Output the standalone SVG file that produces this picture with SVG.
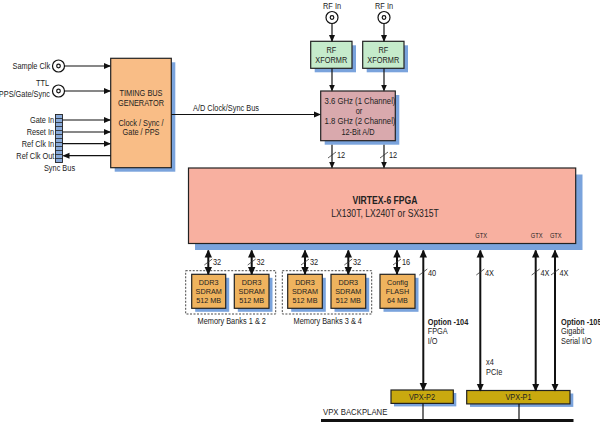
<svg xmlns="http://www.w3.org/2000/svg" width="600" height="422" viewBox="0 0 600 422">
<style>
text{font-family:"Liberation Sans",Arial,sans-serif;font-size:9px;fill:#222;transform-box:fill-box;transform-origin:0% 50%;transform:scaleX(0.82)}
.c{text-anchor:middle;transform-origin:50% 50%}
.e{text-anchor:end;transform-origin:100% 50%}
.b{font-weight:bold}
.m{font-size:7.7px;transform:scaleX(0.94)}
.box{stroke:#222;stroke-width:1.2}
.sh{fill:#7aa3dc}
.w{fill:none;stroke:#111;stroke-width:1.2}
.t{fill:none;stroke:#111;stroke-width:2}
.s{fill:none;stroke:#333;stroke-width:0.8}
.ring{fill:#fff;stroke:#111;stroke-width:1.2}
</style>
<defs>
<marker id="a" markerWidth="7" markerHeight="7" refX="6" refY="3.5" orient="auto-start-reverse" markerUnits="userSpaceOnUse"><path d="M0,0.5 L7,3.5 L0,6.5z" fill="#111"/></marker>
<marker id="A" markerWidth="8" markerHeight="8" refX="7" refY="4" orient="auto-start-reverse" markerUnits="userSpaceOnUse"><path d="M0,0.3 L8,4 L0,7.7z" fill="#111"/></marker>
</defs>

<g id="inputs">
<circle class="ring" cx="58.5" cy="66" r="6"/><circle class="ring" cx="58.5" cy="66" r="1.8"/>
<text class="e" x="50" y="69">Sample Clk</text>
<circle class="ring" cx="58.5" cy="91" r="6"/><circle class="ring" cx="58.5" cy="91" r="1.8"/>
<text class="e" x="49" y="86.5">TTL</text>
<text class="e" x="50" y="97">PPS/Gate/Sync</text>
</g>

<g id="sync-bus">
<rect x="55.5" y="114.5" width="7" height="48" fill="#89aad9" stroke="#222" stroke-width="0.9"/>
<path d="M55.5,118.5h7M55.5,122.5h7M55.5,126.5h7M55.5,130.5h7M55.5,134.5h7M55.5,138.5h7M55.5,142.5h7M55.5,146.5h7M55.5,150.5h7M55.5,154.5h7M55.5,158.5h7" stroke="#222" stroke-width="0.8"/>
<text class="e" x="54" y="123">Gate In</text>
<text class="e" x="54" y="135">Reset In</text>
<text class="e" x="54" y="146.7">Ref Clk In</text>
<text class="e" x="54.3" y="158.7">Ref Clk Out</text>
<text class="c" x="59.5" y="171.5">Sync Bus</text>
</g>

<g id="timing-bus-generator">
<rect class="sh" x="114.7" y="62.3" width="60.6" height="109.4"/>
<rect class="box" x="110.7" y="58.3" width="60.6" height="109.4" fill="#f9bd86"/>
<text class="c" x="141" y="96.5">TIMING BUS</text>
<text class="c" x="141" y="106.5">GENERATOR</text>
<text class="c" x="141" y="126">Clock / Sync /</text>
<text class="c" x="141" y="135.5">Gate / PPS</text>
</g>

<g id="rf-in-1">
<text class="c" x="332" y="9">RF In</text>
<circle class="ring" cx="332" cy="17.5" r="6"/><circle class="ring" cx="332" cy="17.5" r="1.8"/>
</g>
<g id="rf-in-2">
<text class="c" x="384" y="9">RF In</text>
<circle class="ring" cx="384" cy="17.5" r="6"/><circle class="ring" cx="384" cy="17.5" r="1.8"/>
</g>

<g id="rf-xformr-1">
<rect class="sh" x="314.7" y="45.3" width="41.3" height="27"/>
<rect class="box" x="310.7" y="41.3" width="41.3" height="27" fill="#c5ebcb"/>
<text class="c" x="331.3" y="53">RF</text>
<text class="c" x="331.3" y="63">XFORMR</text>
</g>
<g id="rf-xformr-2">
<rect class="sh" x="366.7" y="45.3" width="41.3" height="27"/>
<rect class="box" x="362.7" y="41.3" width="41.3" height="27" fill="#c5ebcb"/>
<text class="c" x="383.3" y="53">RF</text>
<text class="c" x="383.3" y="63">XFORMR</text>
</g>

<g id="adc">
<rect class="sh" x="324.7" y="95" width="74.6" height="49.7"/>
<rect class="box" x="320.7" y="91" width="74.6" height="49.7" fill="#d9a9ad"/>
<text class="c" x="360" y="104" style="transform:scaleX(0.86)">3.6 GHz (1 Channel)</text>
<text class="c" x="359" y="114.5">or</text>
<text class="c" x="360" y="124.5" style="transform:scaleX(0.86)">1.8 GHz (2 Channel)</text>
<text class="c" x="358" y="135">12-Bit A/D</text>
</g>

<g id="fpga">
<rect class="sh" x="195" y="174.5" width="387.5" height="75.5"/>
<rect class="box" x="188.5" y="168" width="387.2" height="75.5" fill="#f8b0a0"/>
<text class="c b" x="385" y="204" style="font-size:10.5px">VIRTEX-6 FPGA</text>
<text class="c" x="385" y="217" style="font-size:10.5px">LX130T, LX240T or SX315T</text>
<text class="c" x="481" y="238.5" style="font-size:7px">GTX</text>
<text class="c" x="536.7" y="238.5" style="font-size:7px">GTX</text>
<text class="c" x="555.7" y="238.5" style="font-size:7px">GTX</text>
</g>

<g id="memory-banks-1-2">
<rect x="185.7" y="270.7" width="90" height="43.3" fill="none" stroke="#333" stroke-width="0.9" stroke-dasharray="2,1.5"/>
<text class="c" x="231.7" y="324.5">Memory Banks 1 &amp; 2</text>
</g>
<g id="ddr3-1">
<rect class="sh" x="195.2" y="277.8" width="34" height="34"/>
<rect class="box" x="191.7" y="274.3" width="34" height="34" fill="#efb35e"/>
<text class="c m" x="208.7" y="285">DDR3</text><text class="c m" x="208.7" y="293.8">SDRAM</text><text class="c m" x="208.7" y="302.6">512 MB</text>
</g>
<g id="ddr3-2">
<rect class="sh" x="237.8" y="277.8" width="34.7" height="34"/>
<rect class="box" x="234.3" y="274.3" width="34.7" height="34" fill="#efb35e"/>
<text class="c m" x="251.7" y="285">DDR3</text><text class="c m" x="251.7" y="293.8">SDRAM</text><text class="c m" x="251.7" y="302.6">512 MB</text>
</g>
<g id="memory-banks-3-4">
<rect x="282.3" y="270.7" width="89.4" height="43.3" fill="none" stroke="#333" stroke-width="0.9" stroke-dasharray="2,1.5"/>
<text class="c" x="327.7" y="324.5">Memory Banks 3 &amp; 4</text>
</g>
<g id="ddr3-3">
<rect class="sh" x="291.2" y="277.8" width="34.6" height="34"/>
<rect class="box" x="287.7" y="274.3" width="34.6" height="34" fill="#efb35e"/>
<text class="c m" x="305" y="285">DDR3</text><text class="c m" x="305" y="293.8">SDRAM</text><text class="c m" x="305" y="302.6">512 MB</text>
</g>
<g id="ddr3-4">
<rect class="sh" x="334.5" y="277.8" width="34.7" height="34"/>
<rect class="box" x="331" y="274.3" width="34.7" height="34" fill="#efb35e"/>
<text class="c m" x="348.3" y="285">DDR3</text><text class="c m" x="348.3" y="293.8">SDRAM</text><text class="c m" x="348.3" y="302.6">512 MB</text>
</g>
<g id="config-flash">
<rect class="sh" x="383.5" y="277.8" width="35" height="34"/>
<rect class="box" x="380" y="274.3" width="35" height="34" fill="#efb35e"/>
<text class="c m" x="397.5" y="285">Config</text><text class="c m" x="397.5" y="293.8">FLASH</text><text class="c m" x="397.5" y="302.6">64 MB</text>
</g>

<g id="vpx-p2">
<rect class="sh" x="394" y="393" width="62.3" height="13.4"/>
<rect class="box" x="391" y="390" width="62.3" height="13.4" fill="#c9a90f"/>
<text class="c" x="422" y="400">VPX-P2</text>
</g>
<g id="vpx-p1">
<rect class="sh" x="470" y="393.5" width="103.3" height="13.4"/>
<rect class="box" x="466.7" y="390.5" width="103.3" height="13.4" fill="#c9a90f"/>
<text class="c" x="518.5" y="400.5">VPX-P1</text>
</g>
<g id="vpx-backplane">
<line x1="321" y1="420.5" x2="573.5" y2="420.5" stroke="#111" stroke-width="3"/>
<text x="323" y="415" style="font-size:9.5px">VPX BACKPLANE</text>
</g>

<g id="labels">
<text x="193" y="111">A/D Clock/Sync Bus</text>
<text x="337" y="158">12</text>
<text x="389" y="158">12</text>
<text x="213" y="265.5">32</text>
<text x="256.5" y="265.5">32</text>
<text x="310" y="265.5">32</text>
<text x="353" y="265.5">32</text>
<text x="402" y="265.5">16</text>
<text x="428" y="276">40</text>
<text x="485" y="276">4X</text>
<text x="540.5" y="276">4X</text>
<text x="559.5" y="276">4X</text>
<text class="b" x="427.7" y="325">Option -104</text>
<text x="427.7" y="334.5">FPGA</text>
<text x="427.7" y="344">I/O</text>
<text class="b" x="561" y="325">Option -105</text>
<text x="561" y="334.5">Gigabit</text>
<text x="561" y="344">Serial I/O</text>
<text x="486" y="365">x4</text>
<text x="486" y="375">PCIe</text>
</g>

<g id="connectors">
<line class="w" x1="64.5" y1="66" x2="110" y2="66" marker-end="url(#a)"/>
<line class="w" x1="64.5" y1="91" x2="110" y2="91" marker-end="url(#a)"/>
<line class="w" x1="62.5" y1="120" x2="110" y2="120" marker-end="url(#a)"/>
<line class="w" x1="62.5" y1="132" x2="110" y2="132" marker-end="url(#a)"/>
<line class="w" x1="62.5" y1="143.7" x2="110" y2="143.7" marker-end="url(#a)"/>
<line class="w" x1="110.7" y1="155.7" x2="63.5" y2="155.7" marker-end="url(#a)"/>
<line class="w" x1="171.3" y1="114.5" x2="320" y2="114.5" marker-end="url(#a)"/>
<line class="w" x1="332" y1="23.5" x2="332" y2="41" marker-end="url(#a)"/>
<line class="w" x1="384" y1="23.5" x2="384" y2="41" marker-end="url(#a)"/>
<line class="w" x1="332" y1="68.3" x2="332" y2="90.5" marker-end="url(#a)"/>
<line class="w" x1="384" y1="68.3" x2="384" y2="90.5" marker-end="url(#a)"/>
<line class="w" x1="332" y1="144.7" x2="332" y2="167.5" marker-end="url(#a)"/>
<line class="w" x1="384" y1="144.7" x2="384" y2="167.5" marker-end="url(#a)"/>
<path class="s" d="M328,158 L336,152 M380,158 L388,152"/>
<g>
<line class="t" x1="208.3" y1="250.5" x2="208.3" y2="274" marker-start="url(#A)" marker-end="url(#A)"/>
<line class="t" x1="251.7" y1="250.5" x2="251.7" y2="274" marker-start="url(#A)" marker-end="url(#A)"/>
<line class="t" x1="305" y1="250.5" x2="305" y2="274" marker-start="url(#A)" marker-end="url(#A)"/>
<line class="t" x1="348.3" y1="250.5" x2="348.3" y2="274" marker-start="url(#A)" marker-end="url(#A)"/>
<line class="t" x1="397" y1="250.5" x2="397" y2="274" marker-start="url(#A)" marker-end="url(#A)"/>
<line class="t" x1="423.3" y1="250.5" x2="423.3" y2="390" marker-start="url(#A)" marker-end="url(#A)"/>
<line class="t" x1="480.3" y1="250.5" x2="480.3" y2="390.5" marker-start="url(#A)" marker-end="url(#A)"/>
<line class="t" x1="535.7" y1="250.5" x2="535.7" y2="390.5" marker-start="url(#A)" marker-end="url(#A)"/>
<line class="t" x1="555" y1="250.5" x2="555" y2="390.5" marker-start="url(#A)" marker-end="url(#A)"/>
</g>
<path class="s" d="M204.3,265 L212.3,259 M247.7,265 L255.7,259 M301,265 L309,259 M344.3,265 L352.3,259 M393,265 L401,259 M419.3,275 L427.3,269 M476.3,275 L484.3,269 M531.7,275 L539.7,269 M551,275 L559,269"/>
<line class="w" x1="423" y1="403.4" x2="423" y2="419"/>
<line class="w" x1="519" y1="403.9" x2="519" y2="419"/>
</g>
</svg>
